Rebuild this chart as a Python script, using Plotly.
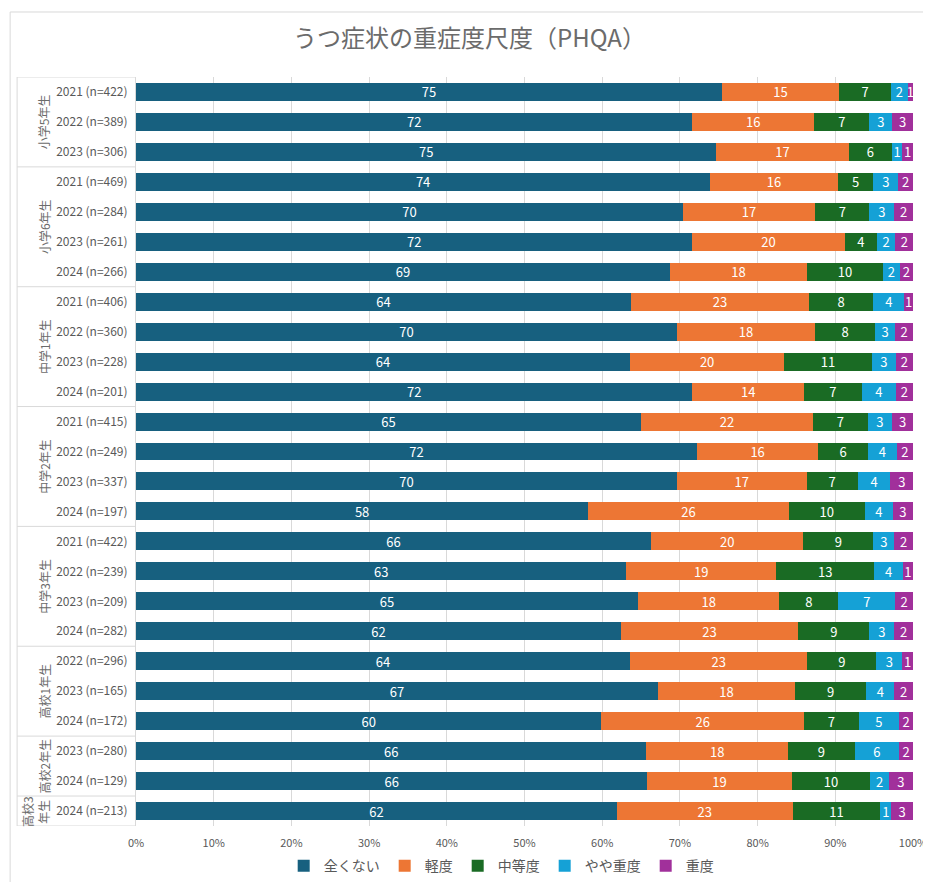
import plotly.graph_objects as go

title = "うつ症状の重症度尺度（PHQA）"
series_names = ["全くない", "軽度", "中等度", "やや重度", "重度"]
colors = ["#17607F", "#ED7634", "#1A6B24", "#15A1D6", "#A1309B"]

row_group = (["小学5年生"] * 3 + ["小学6年生"] * 4 + ["中学1年生"] * 4 + ["中学2年生"] * 4 +
             ["中学3年生"] * 4 + ["高校1年生"] * 3 + ["高校2年生"] * 2 + ["高校3年生"] * 1)
group_display = {"高校3年生": "高校3<br>年生"}

years = ["2021 (n=422)", "2022 (n=389)", "2023 (n=306)",
         "2021 (n=469)", "2022 (n=284)", "2023 (n=261)", "2024 (n=266)",
         "2021 (n=406)", "2022 (n=360)", "2023 (n=228)", "2024 (n=201)",
         "2021 (n=415)", "2022 (n=249)", "2023 (n=337)", "2024 (n=197)",
         "2021 (n=422)", "2022 (n=239)", "2023 (n=209)", "2024 (n=282)",
         "2022 (n=296)", "2023 (n=165)", "2024 (n=172)",
         "2023 (n=280)", "2024 (n=129)",
         "2024 (n=213)"]

none_ = [75.4, 71.6, 74.7, 73.9, 70.4, 71.6, 68.7, 63.7, 69.6, 63.6, 71.6, 65.0, 72.2, 69.6, 58.2,
         66.3, 63.1, 64.6, 62.4, 63.6, 67.2, 59.9, 65.7, 65.8, 61.9]
mild = [15.1, 15.7, 17.0, 16.4, 17.0, 19.6, 17.7, 22.9, 17.8, 19.8, 14.4, 22.1, 15.6, 16.7, 25.8,
        19.6, 19.3, 18.2, 22.8, 22.8, 17.6, 26.1, 18.2, 18.6, 22.6]
moderate = [6.7, 7.1, 5.6, 4.6, 7.0, 4.2, 9.7, 8.3, 7.7, 11.3, 7.4, 7.1, 6.4, 6.6, 9.8,
            9.0, 12.6, 7.6, 9.2, 8.9, 9.2, 7.0, 8.6, 10.1, 11.3]
mod_severe = [2.1, 2.9, 1.3, 3.2, 3.2, 2.3, 2.2, 4.0, 2.6, 3.1, 4.4, 3.1, 3.7, 4.2, 3.6,
              2.7, 3.7, 7.3, 3.2, 3.3, 3.6, 5.2, 5.7, 2.4, 1.4]
severe = [0.7, 2.7, 1.4, 1.9, 2.4, 2.4, 1.7, 1.1, 2.3, 2.2, 2.2, 2.7, 2.1, 2.9, 2.6,
          2.4, 1.3, 2.3, 2.4, 1.4, 2.4, 1.8, 1.8, 3.1, 2.8]

series = [none_, mild, moderate, mod_severe, severe]
n = len(years)
idx = list(range(n))

FONT = "Noto Sans CJK JP"
GRAY = "#595959"
LINE = "#d9d9d9"

fig = go.Figure()
for name, vals, col in zip(series_names, series, colors):
    fig.add_trace(go.Bar(
        y=idx, x=vals, name=name, orientation="h",
        marker=dict(color=col, line=dict(width=0)),
        texttemplate="%{x:.0f}", textposition="inside", insidetextanchor="middle",
        textangle=0, textfont=dict(color="white", size=13, family=FONT),
        constraintext="none",
    ))

# group separators and labels
shapes = []
annotations = []
left_x = -0.153
groups = []
for i, g in enumerate(row_group):
    if not groups or groups[-1][0] != g:
        groups.append([g, i, i])
    else:
        groups[-1][2] = i
for g, s, e in groups:
    annotations.append(dict(
        x=-0.118 if g not in group_display else -0.13, xref="paper",
        y=(s + e) / 2, yref="y",
        text=group_display.get(g, g), textangle=-90, showarrow=False,
        font=dict(size=12, color="#6b6b6b", family=FONT), xanchor="center", yanchor="middle",
    ))
    shapes.append(dict(type="line", xref="paper", yref="y", x0=left_x, x1=0,
                       y0=s - 0.5, y1=s - 0.5, line=dict(color=LINE, width=1)))
shapes.append(dict(type="line", xref="paper", yref="y", x0=left_x, x1=0,
                   y0=n - 0.5, y1=n - 0.5, line=dict(color=LINE, width=1)))
shapes.append(dict(type="line", xref="paper", yref="y", x0=left_x, x1=left_x,
                   y0=-0.5, y1=n - 0.5, line=dict(color=LINE, width=1)))
# chart frame
shapes.append(dict(type="rect", xref="paper", yref="paper", x0=-0.162, x1=1.1,
                   y0=-0.2, y1=1.0868, line=dict(color=LINE, width=1), layer="below"))

fig.update_layout(
    width=923, height=874,
    margin=dict(l=128, r=18, t=69, b=56, autoexpand=False),
    barmode="stack", bargap=0.4,
    plot_bgcolor="white", paper_bgcolor="white",
    title=dict(text=title, x=0.5, xanchor="center", y=0.965, yanchor="middle",
               font=dict(size=24, color="#6b6b6b", family=FONT)),
    font=dict(family=FONT, color=GRAY),
    uniformtext=dict(minsize=12, mode="show"),
    xaxis=dict(range=[0, 100], dtick=10, ticksuffix="%", showgrid=True, gridcolor=LINE,
               zeroline=False, showline=False, tickfont=dict(size=11, color=GRAY, family=FONT),
               ticks="outside", ticklen=7, tickcolor="rgba(0,0,0,0)",
               fixedrange=True),
    yaxis=dict(tickmode="array", tickvals=idx, ticktext=years, range=[n - 0.5, -0.5],
               showgrid=False, zeroline=False, showline=True, linecolor=LINE,
               ticks="outside", ticklen=5, tickcolor="rgba(0,0,0,0)",
               tickfont=dict(size=12, color=GRAY, family=FONT)),
    legend=dict(orientation="h", x=0.47, xanchor="center", y=0.018, yanchor="middle",
                yref="container",
                font=dict(size=14, color=GRAY, family=FONT), traceorder="normal",
                itemwidth=30),
    shapes=shapes, annotations=annotations,
)

fig.write_html("out.html")
